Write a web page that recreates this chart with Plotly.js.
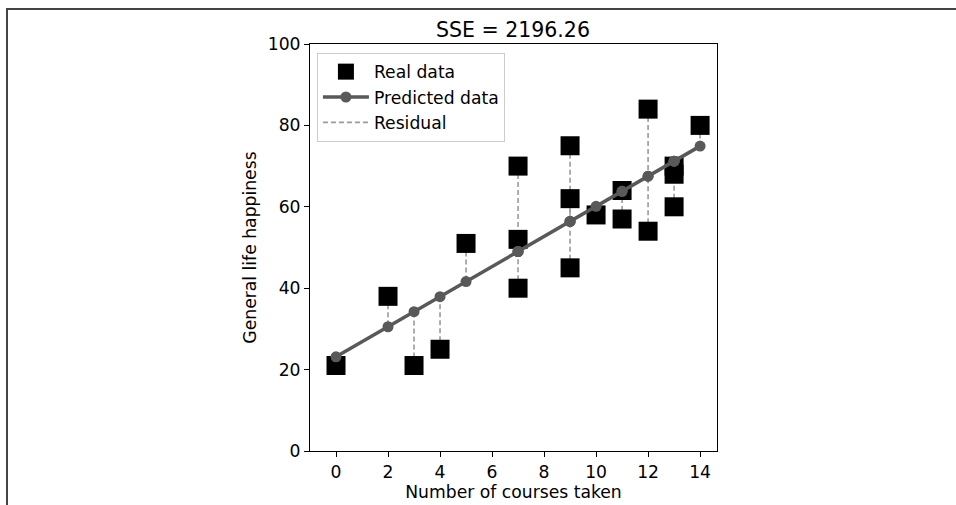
<!DOCTYPE html>
<html>
<head>
<meta charset="utf-8">
<script src="https://cdn.plot.ly/plotly-3.0.1.min.js"></script>
<style>
  html, body { margin: 0; padding: 0; background: #fff; }
  #chart { width: 956px; height: 505px; }
  #frame { position: absolute; left: 6px; top: 8px; width: 1000px; height: 600px;
           border-top: 2px solid #444; border-left: 2px solid #444; pointer-events: none; }
</style>
</head>
<body>
<div id="chart"></div>
<div id="frame"></div>
<script>
// Courses taken (x) and general life happiness (y) for each person
const coursesTaken = [0, 2, 3, 4, 5, 7, 7, 7, 9, 9, 9, 10, 11, 11, 12, 12, 13, 13, 13, 14];
const happiness    = [21, 38, 21, 25, 51, 70, 52, 40, 75, 62, 45, 58, 64, 57, 84, 54, 70, 68, 60, 80];
// Predicted happiness (fitted line) at each x
const predicted    = [23.13, 30.53, 34.22, 37.92, 41.62, 49.02, 49.02, 49.02, 56.41, 56.41, 56.41,
                      60.11, 63.81, 63.81, 67.51, 67.51, 71.21, 71.21, 71.21, 74.91];
const titleText = "SSE = 2196.26";
const xTicks = [0, 2, 4, 6, 8, 10, 12, 14];
const yTicks = [0, 20, 40, 60, 80, 100];

// residual segments (real -> predicted), separated by gaps
const resX = [], resY = [];
coursesTaken.forEach((x, i) => {
  resX.push(x, x, null);
  resY.push(happiness[i], predicted[i], null);
});

const FONT = "DejaVu Sans, sans-serif";
const FS = 17.2;

const traces = [
  {
    x: resX, y: resY, type: "scatter", mode: "lines", name: "Residual",
    line: { color: "#9a9a9a", width: 1.6, dash: "5px,3px" },
    connectgaps: false, legendrank: 3, hoverinfo: "skip"
  },
  {
    x: coursesTaken, y: happiness, type: "scatter", mode: "markers", name: "Real data",
    marker: { symbol: "square", size: 19, color: "#000000", line: { width: 0 } },
    legendrank: 1
  },
  {
    x: coursesTaken, y: predicted, type: "scatter", mode: "lines+markers", name: "Predicted data",
    line: { color: "#595959", width: 3.5 },
    marker: { symbol: "circle", size: 11, color: "#595959" },
    legendrank: 2
  }
];

const layout = {
  width: 956, height: 505,
  margin: { l: 310, r: 239, t: 44, b: 54, pad: 0 },
  paper_bgcolor: "#ffffff", plot_bgcolor: "#ffffff",
  font: { family: FONT, size: FS, color: "#000000" },
  showlegend: true,
  title: {
    text: titleText, font: { family: FONT, size: 20.5, color: "#000" },
    x: 0.5366, xanchor: "center", y: 0.94, yanchor: "middle", xref: "container", yref: "container"
  },
  xaxis: {
    range: [-1, 14.65], tickmode: "array", tickvals: xTicks, ticktext: xTicks.map(String),
    showgrid: false, zeroline: false, showline: true, mirror: true, linecolor: "#000", linewidth: 1,
    ticks: "outside", ticklen: 5, tickwidth: 1, tickcolor: "#000",
    tickfont: { family: FONT, size: FS },
    title: { text: "Number of courses taken", font: { family: FONT, size: FS }, standoff: 2 }
  },
  yaxis: {
    range: [0, 100], tickmode: "array", tickvals: yTicks, ticktext: yTicks.map(String),
    showgrid: false, zeroline: false, showline: true, mirror: true, linecolor: "#000", linewidth: 1,
    ticks: "outside", ticklen: 5, tickwidth: 1, tickcolor: "#000",
    tickfont: { family: FONT, size: FS },
    title: { text: "General life happiness", font: { family: FONT, size: FS }, standoff: 6 }
  },
  legend: {
    x: 0.017, y: 0.978, xanchor: "left", yanchor: "top",
    bgcolor: "rgba(255,255,255,0.9)", bordercolor: "#cccccc", borderwidth: 1,
    font: { family: FONT, size: FS }, itemsizing: "trace", itemwidth: 46, tracegroupgap: 0
  }
};

Plotly.newPlot("chart", traces, layout, { displayModeBar: false, staticPlot: true });
</script>
</body>
</html>
